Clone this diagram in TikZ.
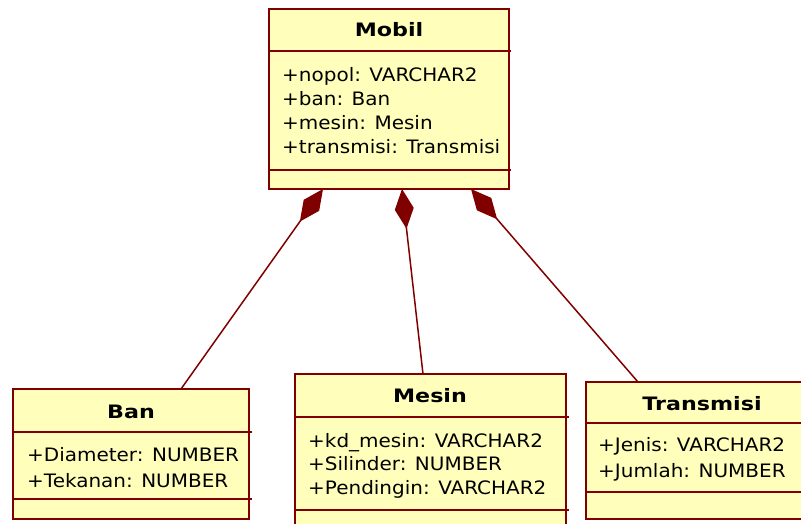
\documentclass[tikz,border=0pt]{standalone}
\usepackage{fontspec}
\setmainfont{DejaVu Sans}[FakeStretch=1.08, BoldFeatures={FakeStretch=1.2}]
\usetikzlibrary{arrows.meta}
\definecolor{umlfill}{HTML}{FFFFBB}
\definecolor{umlline}{HTML}{800000}
\newcommand{\umlfont}{\fontsize{18.5pt}{24pt}\selectfont}
\tikzset{
  classbox/.style={draw=umlline, fill=umlfill, line width=2pt, rectangle,
    inner sep=0pt, outer sep=0pt, anchor=north west},
  sepline/.style={draw=umlline, line width=2pt},
  classname/.style={font=\umlfont\bfseries, anchor=base, inner sep=0pt},
  attr/.style={font=\umlfont, anchor=base west, inner sep=0pt},
  compose/.style={draw=umlline, line width=1.5pt,
    {Diamond[length=40pt,width=19pt,fill=umlline]}-},
}
\begin{document}
\begin{tikzpicture}[x=1pt,y=-1pt]
\useasboundingbox (0,0) rectangle (801,524);
% Mobil
\node[classbox, minimum width=240pt, minimum height=180pt] (mobil) at (269,9) {};
\draw[sepline] (269,51) -- (511,51);
\draw[sepline] (269,170) -- (511,170);
\node[classname] at (389,37) {Mobil};
\foreach \t [count=\n] in {
      {+nopol: VARCHAR2},{+ban: Ban},{+mesin: Mesin},{+transmisi: Transmisi}
  } {
     \node[attr] at (282,58+24*\n) {\t};
  }
% Ban
\node[classbox, minimum width=236pt, minimum height=130pt] (ban) at (13,389) {};
\draw[sepline] (13,432) -- (252,432);
\draw[sepline] (13,499) -- (252,499);
\node[classname] at (131,418) {Ban};
\foreach \t [count=\n] in {
      {+Diameter: NUMBER},{+Tekanan: NUMBER}
  } {
     \node[attr] at (27,435+26*\n) {\t};
  }
% Mesin
\node[classbox, minimum width=271pt, minimum height=160pt] (mesin) at (295,374) {};
\draw[sepline] (295,417) -- (569,417);
\draw[sepline] (295,510) -- (569,510);
\node[classname] at (430,402) {Mesin};
\foreach \t [count=\n] in {
      {+kd\_mesin: VARCHAR2},{+Silinder: NUMBER},{+Pendingin: VARCHAR2}
  } {
     \node[attr] at (308,423.5+23.5*\n) {\t};
  }
% Transmisi
\node[classbox, minimum width=232pt, minimum height=137pt] (transmisi) at (586,382) {};
\draw[sepline] (586,423) -- (820,423);
\draw[sepline] (586,492) -- (820,492);
\node[classname] at (702,410) {Transmisi};
\foreach \t [count=\n] in {
      {+Jenis: VARCHAR2},{+Jumlah: NUMBER}
  } {
     \node[attr] at (598,425+26*\n) {\t};
  }
% komposisi
\draw[compose] ([xshift=54pt]mobil.south west) -- ([xshift=168pt]ban.north west);
\draw[compose] ([xshift=133pt]mobil.south west) -- ([xshift=128pt]mesin.north west);
\draw[compose] ([xshift=202pt]mobil.south west) -- ([xshift=52pt]transmisi.north west);
\end{tikzpicture}
\end{document}
